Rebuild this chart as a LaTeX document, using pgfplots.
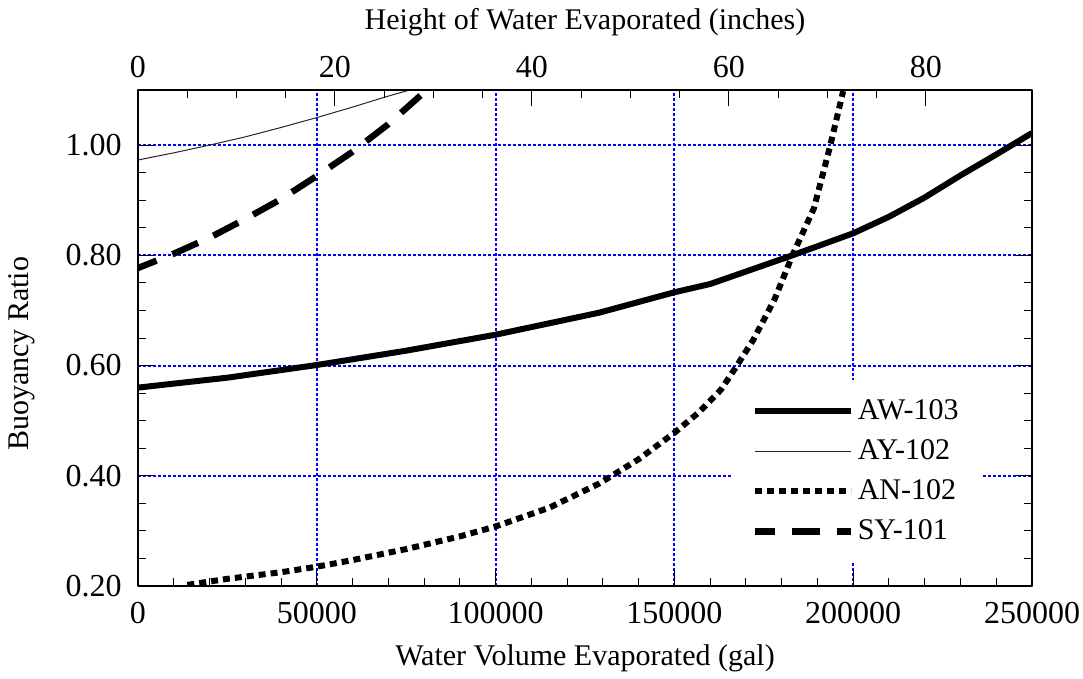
\documentclass[border=0pt]{standalone}
\usepackage{fontspec}
\setmainfont{Liberation Serif}
\usepackage{pgfplots}
\pgfplotsset{compat=1.18}

\pgfplotsset{
  myticks/.style={
    tick align=inside,
    major tick length=8bp, minor tick length=4bp,
    every tick/.style={black, line width=0.5bp},
    tick label style={font=\fontsize{16bp}{19bp}\selectfont},
    /pgf/number format/assume math mode=true,
  },
}

\begin{document}
\fontsize{15bp}{18bp}\selectfont
\begin{tikzpicture}
\path[use as bounding box] (-69bp,-46.5bp) rectangle (472.5bp,293bp);
\begin{axis}[
  scale only axis, width=447bp, height=248bp,
  xmin=0, xmax=250000, ymin=0.2, ymax=1.1,
  xtick={0,50000,100000,150000,200000,250000},
  ytick={0.2,0.4,0.6,0.8,1.0},
  minor x tick num=4, minor y tick num=3,
  xtick pos=bottom, ytick pos=both,
  myticks,
  axis line style={line width=0.75bp},
  scaled x ticks=false,
  x tick label style={/pgf/number format/.cd, fixed, 1000 sep={}, /tikz/.cd, yshift=-3bp},
  y tick label style={/pgf/number format/.cd, fixed, fixed zerofill, precision=2, /tikz/.cd, xshift=-3bp},
  grid=major,
  major grid style={color=blue, line width=1bp, dash pattern=on 1.5bp off 1bp},
  xlabel={Water Volume Evaporated (gal)},
  ylabel={Buoyancy Ratio},
  ylabel style={at={(axis description cs:-0.1298,0.468)}, anchor=center},
  legend style={draw=none, fill=white, at={(0.6655,0.4153)}, anchor=north west,
    inner xsep=9bp, inner ysep=6.5bp, row sep=2bp,
    nodes={inner sep=2bp, text height=11bp, text depth=3bp}},
  legend cell align=left,
  legend image code/.code={\draw[#1] (0bp,0bp) -- (48bp,0bp);},
  line join=round,
]
% AW-103
\addplot[black, line width=3bp] coordinates {
  (0,0.560) (25000,0.578) (50000,0.601) (75000,0.627) (100000,0.656)
  (129000,0.696) (150000,0.733) (160000,0.748) (183000,0.800)
  (200000,0.840) (210000,0.870) (220000,0.905) (230000,0.945)
  (240000,0.983) (250000,1.022)
};
\addlegendentry{AW-103}
% AY-102
\addplot[black!85, line width=0.5bp] coordinates {
  (0,0.973) (10000,0.986) (20000,1.000) (30000,1.015) (40000,1.032)
  (50000,1.050) (60000,1.069) (70000,1.089) (76000,1.100)
};
\addlegendentry{AY-102}
% AN-102
\addplot[black, line width=3bp, dash pattern=on 3.5bp off 2.5bp] coordinates {
  (13800,0.202) (25000,0.213) (40000,0.225) (50000,0.235) (60000,0.247)
  (75000,0.267) (90000,0.290) (100000,0.308) (115000,0.342)
  (129000,0.386) (140000,0.430) (150000,0.478) (157000,0.516)
  (163000,0.556) (167000,0.595) (172000,0.646) (178000,0.720)
  (183000,0.800) (189000,0.885) (193500,0.997) (197200,1.098)
};
\addlegendentry{AN-102}
% SY-101
\addplot[black, line width=3.2bp, dash pattern=on 14bp off 8.5bp, dash phase=4bp] coordinates {
  (0,0.777) (10000,0.803) (20000,0.832) (30000,0.866) (40000,0.902)
  (50000,0.944) (60000,0.988) (70000,1.038) (79000,1.090)
};
\addlegendentry{SY-101}
\end{axis}
\begin{axis}[
  scale only axis, width=447bp, height=248bp,
  xmin=0, xmax=90.77, ymin=0, ymax=1,
  axis x line*=top, hide y axis,
  xtick={0,20,40,60,80}, minor x tick num=3,
  myticks, xtick align=inside,
  axis line style={line width=0.75bp},
  x tick label style={yshift=1bp},
  xlabel={Height of Water Evaporated (inches)},
]
\end{axis}
\end{tikzpicture}
\end{document}
